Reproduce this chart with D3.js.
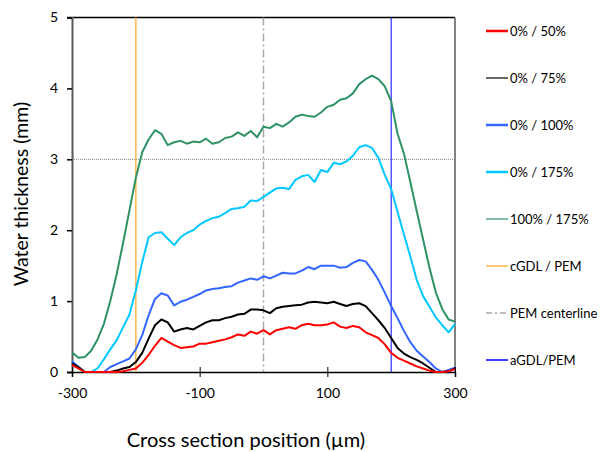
<!DOCTYPE html>
<html><head><meta charset="utf-8">
<script src="https://cdn.jsdelivr.net/npm/d3@7"></script>
<style>body{margin:0;background:#fff}svg{display:block}text{font-family:Lato,"Liberation Sans",sans-serif}</style>
</head><body>
<svg id="c" width="607" height="452"></svg>
<script>
const positions = d3.range(-300, 301, 10);
const s0_50  = [0.10,0.05,0,0,0,0,0,0,0.01,0.03,0.05,0.13,0.24,0.37,0.48,0.43,0.38,0.34,0.35,0.36,0.40,0.40,0.42,0.44,0.46,0.49,0.53,0.51,0.57,0.54,0.59,0.53,0.59,0.61,0.63,0.61,0.66,0.68,0.66,0.66,0.67,0.70,0.64,0.62,0.65,0.63,0.56,0.52,0.48,0.39,0.27,0.20,0.16,0.12,0.08,0.05,0.02,0,0,0.01,0.04];
const s0_75  = [0.12,0.07,0,0,0,0,0,0.02,0.05,0.07,0.14,0.27,0.47,0.66,0.74,0.70,0.57,0.60,0.62,0.60,0.65,0.70,0.73,0.73,0.76,0.78,0.81,0.82,0.88,0.88,0.87,0.83,0.90,0.92,0.93,0.94,0.95,0.98,0.99,0.98,0.97,0.99,0.96,0.93,0.96,0.97,0.93,0.83,0.73,0.62,0.48,0.34,0.26,0.21,0.17,0.12,0.06,0,0,0.01,0.05];
const s0_100 = [0.15,0.07,0,0,0,0,0.07,0.11,0.15,0.19,0.32,0.52,0.80,1.03,1.11,1.08,0.94,0.99,1.02,1.06,1.10,1.15,1.17,1.18,1.20,1.21,1.26,1.29,1.32,1.30,1.35,1.32,1.36,1.40,1.39,1.39,1.43,1.48,1.45,1.50,1.50,1.50,1.47,1.48,1.54,1.58,1.56,1.44,1.30,1.12,0.93,0.76,0.58,0.42,0.30,0.22,0.14,0.05,0,0.03,0.06];
const s0_175 = [0.15,0.07,0,0,0.05,0.18,0.32,0.45,0.63,0.81,1.15,1.55,1.90,1.96,1.97,1.88,1.79,1.90,1.96,2.00,2.08,2.13,2.17,2.19,2.24,2.30,2.31,2.33,2.42,2.41,2.47,2.53,2.59,2.60,2.58,2.71,2.76,2.78,2.68,2.85,2.82,2.95,2.93,2.97,3.05,3.17,3.20,3.16,3.02,2.78,2.58,2.26,1.94,1.63,1.30,1.07,0.92,0.77,0.66,0.56,0.68];
const s100_175 = [0.28,0.20,0.21,0.30,0.46,0.68,1.00,1.38,1.82,2.28,2.74,3.10,3.28,3.41,3.36,3.20,3.24,3.26,3.22,3.25,3.24,3.29,3.22,3.24,3.30,3.32,3.38,3.33,3.40,3.31,3.46,3.44,3.50,3.46,3.52,3.60,3.63,3.61,3.60,3.66,3.74,3.77,3.84,3.86,3.93,4.06,4.13,4.18,4.13,4.03,3.82,3.36,3.08,2.68,2.27,1.87,1.47,1.12,0.89,0.74,0.71];
const seriesNames = ["0% / 50%","0% / 75%","0% / 100%","0% / 175%","100% / 175%"];
const seriesColors = ["#ff0000","#000000","#3366ff","#00c8ff","#2e9264"];
const legendWidths = [2.5,1.2,2.5,2.5,1.2];
const markerNames = ["cGDL / PEM","PEM centerline","aGDL/PEM"];
const markerPos = [-200, 0, 200];
const markerColors = ["#ffb347","#a6a6a6","#0000ff"];
const xTicks = [-300,-100,100,300];
const yTicks = [0,1,2,3,4,5];
const refLine = 3;

const svg = d3.select("#c");
const x = d3.scaleLinear().domain([-300,300]).range([72,455]);
const y = d3.scaleLinear().domain([0,5]).range([372,17.5]);

// frame
svg.append("line").attr("x1",67).attr("x2",455).attr("y1",y(5)).attr("y2",y(5)).attr("stroke","#000").attr("stroke-width",1.5);
svg.append("line").attr("x1",455).attr("x2",455).attr("y1",y(5)).attr("y2",y(0)).attr("stroke","#595959").attr("stroke-width",1.5);

// reference dotted line
svg.append("line").attr("x1",x(-300)).attr("x2",x(300)).attr("y1",y(refLine)).attr("y2",y(refLine))
  .attr("stroke","#808080").attr("stroke-width",1).attr("stroke-dasharray","1,1");

// y axis
const ya = svg.append("g").attr("transform","translate(72,0)")
  .call(d3.axisLeft(y).tickValues(yTicks).tickSize(5).tickPadding(9).tickFormat(d=>String(d)));
ya.select(".domain").attr("stroke","#595959").attr("stroke-width",2);
ya.selectAll(".tick line").attr("stroke","#000").attr("stroke-width",1.5);
ya.selectAll("text").attr("font-size",14).attr("font-family","Lato,sans-serif").attr("fill","#000");

// x axis
const xa = svg.append("g").attr("transform","translate(0,372)")
  .call(d3.axisBottom(x).tickValues(xTicks).tickSize(5).tickPadding(11).tickFormat(d=>String(d)));
xa.select(".domain").attr("stroke","#000").attr("stroke-width",1.5);
xa.selectAll(".tick line").attr("y1",-5).attr("stroke","#000");
xa.selectAll("text").attr("font-size",14).attr("font-family","Lato,sans-serif").attr("fill","#000");

// marker vertical lines
const markerDash = [null,"8,3,2,3",null];
const markerW = [1.5,1.5,1];
markerPos.forEach((p,i)=>{
  svg.append("line").attr("x1",x(p)).attr("x2",x(p)).attr("y1",y(5)).attr("y2",y(0))
    .attr("stroke",markerColors[i]).attr("stroke-width",markerW[i])
    .attr("stroke-dasharray",markerDash[i]);
});

// series
const allSeries = [s0_50,s0_75,s0_100,s0_175,s100_175];
const line = d3.line().x((d,i)=>x(positions[i])).y(d=>y(d));
const drawOrder = [4,3,2,1,0];
drawOrder.forEach(k=>{
  svg.append("path").datum(allSeries[k]).attr("d",line).attr("fill","none")
    .attr("stroke",seriesColors[k]).attr("stroke-width",2).attr("stroke-linejoin","round");
});

// legend
const legY = d3.range(8).map(i=>31+i*47);
const legItems = seriesNames.map((n,i)=>({n,c:seriesColors[i],w:legendWidths[i],dash:null}))
  .concat(markerNames.map((n,i)=>({n,c:markerColors[i],w:1.5,dash:markerDash[i]})));
legItems.forEach((it,i)=>{
  svg.append("line").attr("x1",486).attr("x2",508).attr("y1",legY[i]).attr("y2",legY[i])
    .attr("stroke",it.c).attr("stroke-width",it.w).attr("stroke-dasharray",it.dash ? "6,3,2,3" : null);
  svg.append("text").attr("x",510).attr("y",legY[i]+5).attr("font-size",13).text(it.n);
});

// axis titles
svg.append("text").attr("x",246).attr("y",447).attr("text-anchor","middle").attr("font-size",20).text("Cross section position (µm)");
svg.append("text").attr("transform","translate(28,194) rotate(-90)").attr("text-anchor","middle").attr("font-size",19.5).text("Water thickness (mm)");
</script>
</body></html>
